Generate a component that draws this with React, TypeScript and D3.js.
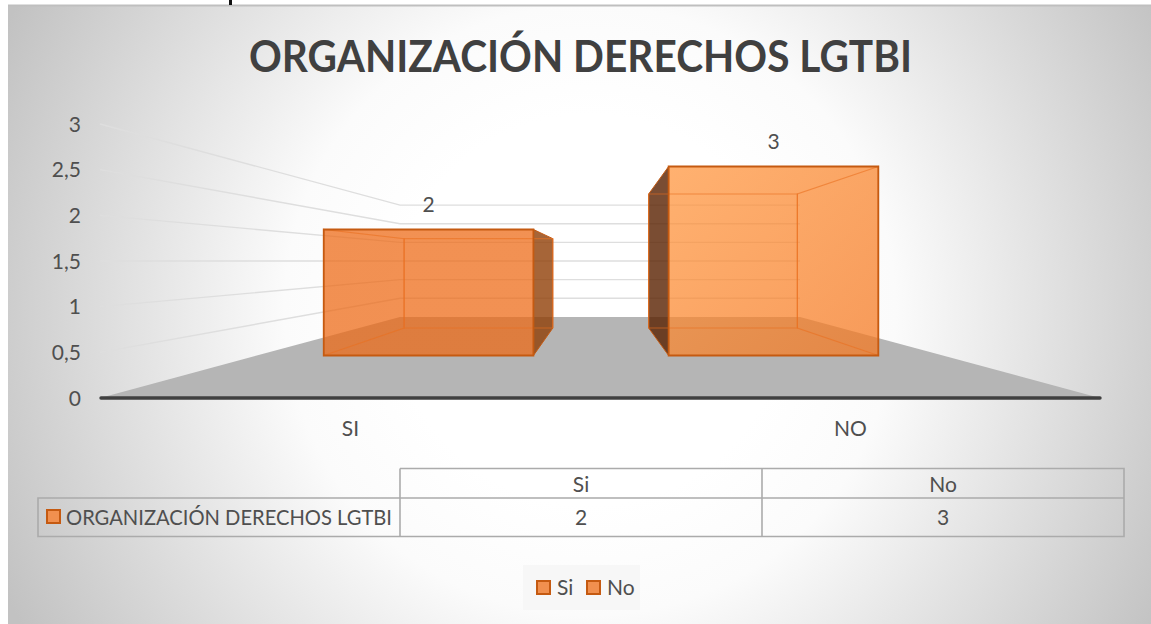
import React from "react";
import * as d3 from "d3";

const chartTitle = "ORGANIZACIÓN DERECHOS LGTBI";
const seriesName = "ORGANIZACIÓN DERECHOS LGTBI";
const categories = ["SI", "NO"];
const tableHeaders = ["Si", "No"];
const values = [2, 3];
const yTicks = [0, 0.5, 1, 1.5, 2, 2.5, 3];
const legendItems = ["Si", "No"];

const W = 1151, H = 624;
const FONT = "Lato, sans-serif";
const TEXT = "#4f4f4f";
const FS = 21;

const xScale = d3.scaleBand<string>().domain(categories).range([101.5, 1101.5]).paddingInner(0.392).paddingOuter(0.196);
const yScale = d3.scaleLinear().domain([0, 3]).range([398, 124]);
// depth: 0 = front of plot, 1 = back wall; gives perspective shrink towards the vanishing point
const VP = { x: 600, y: 261 };
const persp = d3.scaleLinear().domain([0, 1]).range([1, 0.408]);
const perspX = d3.scaleLinear().domain([0, 1]).range([1, 0.4]);
const BAR_FRONT = 0.524, BAR_BACK = 0.863;

type P = [number, number];
const proj = (wx: number, wy: number, d: number, barMode = false): P => {
  const s = persp(d);
  const sx = barMode ? s : perspX(d);
  return [VP.x + (wx - VP.x) * sx, VP.y + (wy - VP.y) * s];
};
const poly = d3.line<P>().x((p) => p[0]).y((p) => p[1]);
const closed = (pts: P[]) => poly(pts) + "Z";
const fmt = (v: number) => String(v).replace(".", ",");

const Bar = ({ cat, value, i }: { cat: string; value: number; i: number }) => {
  const x0 = xScale(cat)!;
  const x1 = x0 + xScale.bandwidth();
  const y0 = yScale(0), y1 = yScale(value);
  const f = (x: number, y: number, d: number) => proj(x, y, d, true);
  const fa = f(x0, y0, BAR_FRONT), fb = f(x1, y0, BAR_FRONT), fc = f(x1, y1, BAR_FRONT), fd = f(x0, y1, BAR_FRONT);
  const ba = f(x0, y0, BAR_BACK), bb = f(x1, y0, BAR_BACK), bc = f(x1, y1, BAR_BACK), bd = f(x0, y1, BAR_BACK);
  const fill = `url(#barFill${i})`;
  const stroke = "#C55A11";
  const inner = "#E9701F";
  const darkFace = i === 0 ? "rgba(144,62,6,0.8)" : "rgba(89,32,0,0.8)";
  const sideOuter = i === 0 ? [fb, bb, bc, fc] : [fa, ba, bd, fd];
  const sideInner = i === 0 ? [fa, ba, bd, fd] : [fb, bb, bc, fc];
  return (
    <g>
      <path d={closed(sideOuter)} fill={darkFace} stroke={stroke} strokeWidth={1} />
      <path d={closed([fa, fb, fc, fd])} fill={fill} fillOpacity={0.73} />
      <path d={closed(sideInner)} fill="none" stroke={inner} strokeWidth={1.2} strokeOpacity={0.6} />
      <path d={closed([ba, bb, bc, bd])} fill="none" stroke={inner} strokeWidth={1.2} strokeOpacity={0.6} />
      <path d={closed([fa, fb, fc, fd])} fill="none" stroke={stroke} strokeWidth={1.8} />
      <text x={(fa[0] + fb[0]) / 2} y={fd[1] - 25} dy="0.36em" textAnchor="middle" fontSize={FS} fill={TEXT} fontFamily={FONT}>
        {value}
      </text>
    </g>
  );
};

const Swatch = ({ x, y }: { x: number; y: number }) => (
  <rect x={x} y={y} width={13} height={13} fill="#F1904F" stroke="#C55A11" strokeWidth={2} />
);

export default function App() {
  const tableX = [400, 762, 1124];
  const tableY = [468.5, 498, 536.5];
  const tableLeft = 38;
  const grid = "#ABABAB";
  return (
    <svg width={W} height={H} viewBox={`0 0 ${W} ${H}`} style={{ position: "absolute", left: 0, top: 0, background: "#fff" }}>
      <defs>
        <radialGradient id="bg" gradientUnits="userSpaceOnUse" cx={590} cy={310} r={650}>
          <stop offset="0.3" stopColor="#ffffff" />
          <stop offset="0.47" stopColor="#fbfbfb" />
          <stop offset="1" stopColor="#c2c2c2" />
        </radialGradient>
        <linearGradient id="barFill0" x1="0" y1="0" x2="1" y2="1">
          <stop offset="0" stopColor="#ED6813" />
          <stop offset="1" stopColor="#ED6813" />
        </linearGradient>
        <linearGradient id="barFill1" x1="0" y1="0" x2="1" y2="1">
          <stop offset="0" stopColor="#FF943B" />
          <stop offset="1" stopColor="#F5761D" />
        </linearGradient>
      </defs>
      <rect x={8} y={5} width={W - 8} height={H - 5} fill="url(#bg)" />
      <line x1={8} x2={W} y1={5.5} y2={5.5} stroke="#BFBFBF" strokeWidth={2} />
      <line x1={230.5} x2={230.5} y1={0} y2={5} stroke="#111" strokeWidth={3} />

      <text x={580.5} y={57} dy="0.36em" textAnchor="middle" fontFamily={FONT} fontWeight={700} fontSize={43} fill="#404040" textLength={663} lengthAdjust="spacingAndGlyphs">
        {chartTitle}
      </text>

      {/* floor */}
      <path
        d={closed([proj(100, yScale(0), 0), proj(1100, yScale(0), 0), proj(1100, yScale(0), 1), proj(100, yScale(0), 1)])}
        fill="#B5B5B5"
      />
      {/* gridlines */}
      {yTicks.filter((t) => t > 0).map((t) => {
        const y = yScale(t);
        const a = proj(100, y, 0), b = proj(100, y, 1), c = proj(1100, y, 1);
        return <path key={t} d={poly([a, b, c])!} fill="none" stroke="#DEDEDE" strokeWidth={1.4} />;
      })}

      {categories.map((c, i) => (
        <Bar key={c} cat={c} value={values[i]} i={i} />
      ))}

      <line x1={101} x2={1100} y1={yScale(0)} y2={yScale(0)} stroke="#404040" strokeWidth={3.4} strokeLinecap="round" />

      {yTicks.map((t) => (
        <text key={t} x={81} y={yScale(t)} dy="0.36em" textAnchor="end" fontSize={FS} fill={TEXT} fontFamily={FONT}>
          {fmt(t)}
        </text>
      ))}
      {categories.map((c) => (
        <text key={c} x={xScale(c)! + xScale.bandwidth() / 2 - 1} y={428} dy="0.36em" textAnchor="middle" fontSize={FS} fill={TEXT} fontFamily={FONT}>
          {c}
        </text>
      ))}

      {/* data table */}
      <g fill="none" stroke={grid} strokeWidth={1.6}>
        <path d={`M${tableX[0]},${tableY[0]}H${tableX[2]}V${tableY[2]}H${tableLeft}V${tableY[1]}H${tableX[2]}`} />
        {tableX.slice(0, 2).map((x) => (
          <line key={x} x1={x} x2={x} y1={tableY[0]} y2={tableY[2]} />
        ))}
      </g>
      {tableHeaders.map((h, i) => (
        <text key={h} x={(tableX[i] + tableX[i + 1]) / 2} y={(tableY[0] + tableY[1]) / 2 + 1} dy="0.36em" textAnchor="middle" fontSize={FS} fill={TEXT} fontFamily={FONT}>
          {h}
        </text>
      ))}
      {values.map((v, i) => (
        <text key={i} x={(tableX[i] + tableX[i + 1]) / 2} y={(tableY[1] + tableY[2]) / 2} dy="0.36em" textAnchor="middle" fontSize={FS} fill={TEXT} fontFamily={FONT}>
          {v}
        </text>
      ))}
      <Swatch x={47} y={510} />
      <text x={66} y={(tableY[1] + tableY[2]) / 2} dy="0.36em" fontSize={FS} fill={TEXT} fontFamily={FONT} textLength={326} lengthAdjust="spacingAndGlyphs">
        {seriesName}
      </text>

      {/* legend */}
      <rect x={523} y={565} width={117} height={45} fill="#F7F7F7" />
      {legendItems.map((l, i) => {
        const x = 537 + i * 50;
        return (
          <g key={l}>
            <Swatch x={x} y={581} />
            <text x={x + 20} y={587.5} dy="0.36em" fontSize={FS} fill={TEXT} fontFamily={FONT}>
              {l}
            </text>
          </g>
        );
      })}
    </svg>
  );
}
